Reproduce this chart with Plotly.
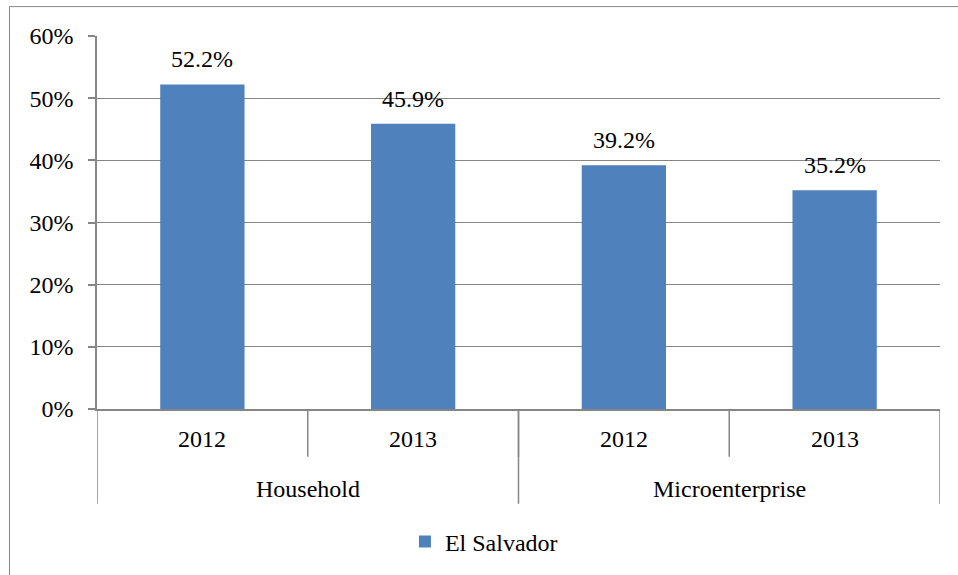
import plotly.graph_objects as go

groups = ["Household", "Household", "Microenterprise", "Microenterprise"]
years = ["2012", "2013", "2012", "2013"]
values = [52.2, 45.9, 39.2, 35.2]
series_name = "El Salvador"
y_ticks = [0, 10, 20, 30, 40, 50, 60]

bar_color = "#4F81BD"
grid_color = "#868686"
font = dict(family="Times New Roman, Liberation Serif, serif", size=24, color="black")

cats = [f"{g} {y}" for g, y in zip(groups, years)]

fig = go.Figure(go.Bar(
    x=cats,
    y=values,
    name=series_name,
    marker=dict(color=bar_color, line=dict(width=0)),
    showlegend=True,
))

# value labels above each bar
for c, v in zip(cats, values):
    fig.add_annotation(x=c, y=v, text=f"{v:.1f}%", showarrow=False,
                       yshift=25, font=font)

# first level labels (years) and tick marks between them
for c, yr in zip(cats, years):
    fig.add_annotation(x=c, y=-0.080, yref="paper", text=yr, showarrow=False,
                       font=font, yanchor="middle")
for i in range(1, len(cats)):
    fig.add_shape(type="line", xref="x", yref="paper", x0=i - 0.5, x1=i - 0.5,
                  y0=0, y1=-0.128, line=dict(color=grid_color, width=1.5))

# second level labels (groups) and dividers
group_names = list(dict.fromkeys(groups))
for g in group_names:
    idx = [i for i, gg in enumerate(groups) if gg == g]
    fig.add_annotation(x=(idx[0] + idx[-1]) / 2, y=-0.214, yref="paper", text=g,
                       showarrow=False, font=font, yanchor="middle")
bounds = [-0.5] + [i + 0.5 for i in range(len(groups)) if i == len(groups) - 1 or groups[i] != groups[i + 1]]
for b in bounds:
    fig.add_shape(type="line", xref="x", yref="paper", x0=b, x1=b,
                  y0=0, y1=-0.254, line=dict(color=grid_color, width=1.5))

fig.update_layout(
    width=958, height=575,
    margin=dict(l=97, r=18, t=36, b=165),
    paper_bgcolor="white", plot_bgcolor="white",
    font=font,
    bargap=0.6,
    legend=dict(orientation="h", x=0.459, xanchor="center", y=-0.353, yanchor="middle",
                font=font, itemwidth=30),
    xaxis=dict(
        range=[-0.5, 3.5],
        showline=True, linecolor=grid_color, linewidth=1.5,
        showticklabels=False, ticks="",
    ),
    yaxis=dict(
        range=[0, 60], tickvals=y_ticks, ticktext=[f"{t}%" for t in y_ticks],
        showgrid=True, gridcolor=grid_color, gridwidth=1,
        showline=True, linecolor=grid_color, linewidth=1.5,
        ticks="outside", ticklen=7, tickcolor=grid_color, tickwidth=1.5,
        ticklabelstandoff=10,
        zeroline=False, tickfont=font,
    ),
)

# outer chart border (top and left edges visible in the frame)
fig.add_shape(type="rect", xref="paper", yref="paper",
              x0=(9.5 - 97) / 843, x1=1.05, y0=-0.45, y1=1 + (36 - 6.5) / 374,
              line=dict(color=grid_color, width=1), fillcolor="rgba(0,0,0,0)", layer="below")

fig.write_html("out.html", config={"displayModeBar": False},
               post_script="document.body.style.margin='0px';")
